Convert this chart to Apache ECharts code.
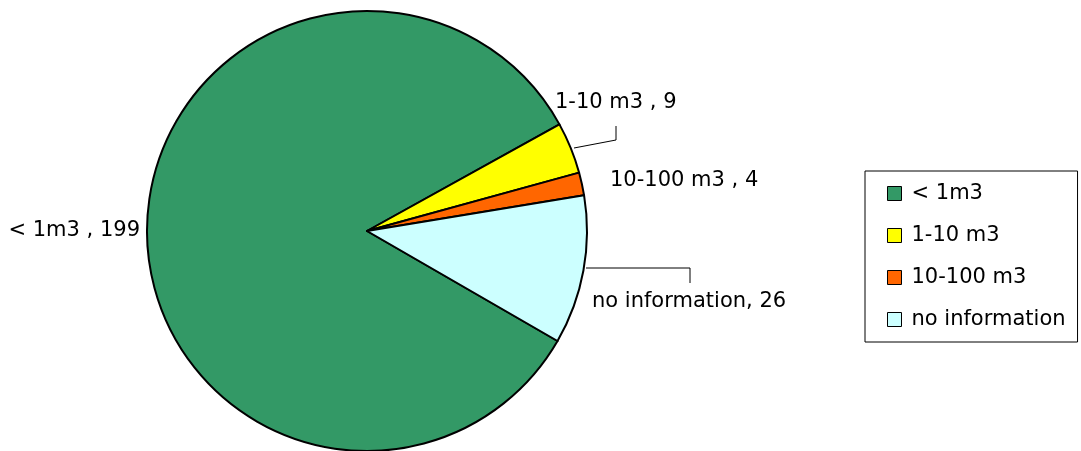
<!DOCTYPE html>
<html>
<head>
<meta charset="utf-8">
<script src="https://cdn.jsdelivr.net/npm/echarts@6/dist/echarts.min.js"></script>
<style>
  html, body { margin: 0; padding: 0; background: #fff; }
  #main { width: 1081px; height: 451px; }
</style>
</head>
<body>
<div id="main"></div>
<script>
// volume classes and number of cases
const categories = ['< 1m3', '1-10 m3', '10-100 m3', 'no information'];
const counts = [199, 9, 4, 26];
const sliceColors = ['#339966', '#FFFF00', '#FF6600', '#CCFFFF'];
// separator between name and value in the data labels
const labelSeps = [' , ', ' , ', ' , ', ', '];

const FONT = 'DejaVu Sans, sans-serif';

var myChart = echarts.init(document.getElementById('main'));

// where each label sits, relative to the chart
const labelPlace = [
    {x: 140, y: 231, align: 'right', line: null},
    {x: 555, y: 103, align: 'left', line: [[574, 148], [616, 140], [616, 126]]},
    {x: 610, y: 181, align: 'left', line: null},
    {x: 592, y: 302, align: 'left', line: [[586, 268], [690, 268], [690, 283]]}
];

myChart.setOption({
    animation: false,
    color: sliceColors,
    legend: {
        orient: 'vertical',
        left: 865,
        top: 171,
        padding: [12, 12, 12, 22],
        itemWidth: 14,
        itemHeight: 14,
        itemGap: 21,
        borderColor: '#000',
        borderWidth: 1,
        icon: 'rect',
        itemStyle: {borderColor: '#000', borderWidth: 1},
        textStyle: {fontFamily: FONT, fontSize: 21, color: '#000', padding: [0, 0, 0, 5]},
        data: categories
    },
    series: [{
        type: 'pie',
        center: [367, 231],
        radius: 220,
        startAngle: 330,
        clockwise: true,
        itemStyle: {borderColor: '#000', borderWidth: 2},
        emphasis: {disabled: true},
        label: {
            show: true,
            position: 'outside',
            overflow: 'none',
            fontFamily: FONT,
            fontSize: 21,
            color: '#000',
            formatter: function (p) {
                return p.name + labelSeps[p.dataIndex] + p.value;
            }
        },
        labelLine: {
            show: true,
            lineStyle: {color: '#000', width: 1}
        },
        labelLayout: function (params) {
            var lp = labelPlace[params.dataIndex];
            var out = {
                x: lp.x,
                y: lp.y,
                align: lp.align,
                verticalAlign: 'middle',
                hideOverlap: false
            };
            if (lp.line) out.labelLinePoints = lp.line;
            return out;
        },
        data: categories.map(function (c, i) {
            return {
                name: c,
                value: counts[i],
                labelLine: {show: labelPlace[i].line !== null}
            };
        })
    }]
});
</script>
</body>
</html>
